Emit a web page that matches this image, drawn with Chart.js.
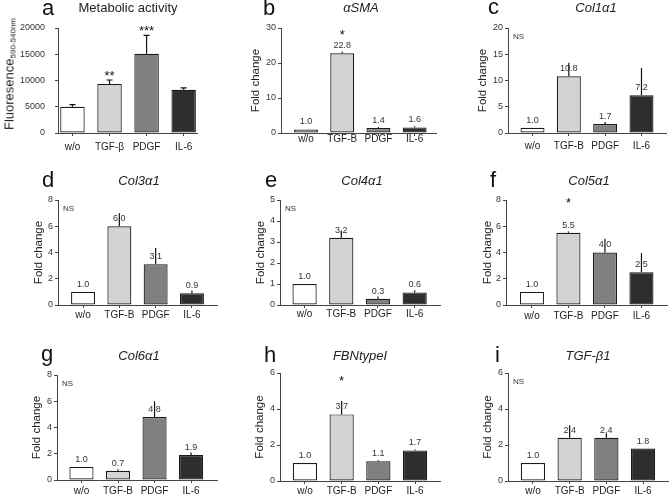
<!DOCTYPE html>
<html>
<head>
<meta charset="utf-8">
<script src="https://cdn.jsdelivr.net/npm/chart.js@4.4.1/dist/chart.umd.min.js"></script>
<style>
    body { margin: 0; background: #fff; width: 669px; height: 495px; overflow: hidden; font-family: "Liberation Sans", Arial, sans-serif; }
    .panel { position: absolute; width: 223px; height: 165px; }
    .panel canvas { position: absolute; left: 0; top: 0; }
    .letter { position: absolute; font-size: 22px; line-height: 1; color: #111; }
    .ptitle { position: absolute; font-size: 13px; line-height: 1; color: #222; white-space: nowrap; transform: translateX(-50%); }
    .ytitle { position: absolute; font-size: 13px; line-height: 1; color: #222; white-space: nowrap; transform: translate(-50%, -50%) rotate(-90deg); }
    .ytitle sub { font-size: 8px; vertical-align: -2px; }
</style>
</head>
<body>
<script>
// groups on the x axis
const groups = ['w/o', 'TGF-B', 'PDGF', 'IL-6'];
const groupsA = ['w/o', 'TGF-β', 'PDGF', 'IL-6'];

// a - metabolic activity (fluorescence)
const metabolicMean = [5000, 9350, 15100, 8250];
const metabolicErr = [5400, 10100, 18600, 8600];
const metabolicStars = ['', '**', '***', ''];

// b..i - fold change, bar value and top of error line
const asmaMean = [1.0, 22.8, 1.4, 1.6];
const asmaErr = [1.0, 23.2, 1.7, 1.9];
const asmaStars = ['', '*', '', ''];

const col1Mean = [1.0, 10.8, 1.7, 7.2];
const col1Err = [1.0, 13.4, 2.1, 12.4];

const col3Mean = [1.0, 6.0, 3.1, 0.9];
const col3Err = [1.0, 7.0, 4.35, 1.1];

const col4Mean = [1.0, 3.2, 0.3, 0.6];
const col4Err = [1.0, 3.55, 0.4, 0.7];

const col5Mean = [1.0, 5.5, 4.0, 2.5];
const col5Err = [1.0, 5.6, 5.05, 3.95];
const col5Stars = ['', '*', '', ''];

const col6Mean = [1.0, 0.7, 4.8, 1.9];
const col6Err = [1.0, 0.82, 6.0, 2.1];

const fbnMean = [1.0, 3.7, 1.1, 1.7];
const fbnErr = [1.0, 4.45, 1.15, 1.75];
const fbnStars = ['', '*', '', ''];

const tgfb1Mean = [1.0, 2.4, 2.4, 1.8];
const tgfb1Err = [1.0, 3.1, 2.65, 1.8];

const noStars = ['', '', '', ''];

const barFill = ['#ffffff', '#d3d3d3', '#808080', '#2e2e2e'];

const panels = [
    { letter: 'a', title: 'Metabolic activity', italic: false, labels: groupsA, mean: metabolicMean, err: metabolicErr, stars: metabolicStars,
      yMax: 20000, yStep: 5000, values: false, ns: false, cap: 6,
      left: 0, top: 0, axisX: 58, right: 197, plotTop: 28, plotBottom: 133, xMin: -0.39, xMax: 3.36, labelPad: 5, yTickPad: 10,
      yTitleX: null, letterX: 42, letterBase: 16, titleX: 128, titleY: 7, starGap: 7 },
    { letter: 'b', title: 'αSMA', italic: true, labels: groups, mean: asmaMean, err: asmaErr, stars: asmaStars,
      yMax: 30, yStep: 10, values: true, ns: false, cap: 0,
      left: 223, top: 0, axisX: 58, right: 213, plotTop: 28, plotBottom: 133, xMin: -0.69, xMax: 3.59, labelPad: -3, yTickPad: 2,
      yTitleX: 33, letterX: 40, letterBase: 16, titleX: 138, titleY: 7, starGap: 20 },
    { letter: 'c', title: 'Col1α1', italic: true, labels: groups, mean: col1Mean, err: col1Err, stars: noStars,
      yMax: 20, yStep: 5, values: true, ns: true, cap: 0,
      left: 446, top: 0, axisX: 62, right: 220, plotTop: 28, plotBottom: 133, xMin: -0.675, xMax: 3.675, labelPad: 4, yTickPad: 2,
      yTitleX: 37, letterX: 42, letterBase: 15, titleX: 150, titleY: 7, starGap: 0 },
    { letter: 'd', title: 'Col3α1', italic: true, labels: groups, mean: col3Mean, err: col3Err, stars: noStars,
      yMax: 8, yStep: 2, values: true, ns: true, cap: 0,
      left: 0, top: 165, axisX: 58, right: 217, plotTop: 35, plotBottom: 140, xMin: -0.69, xMax: 3.69, labelPad: 1, yTickPad: 2,
      yTitleX: 39, letterX: 42, letterBase: 23, titleX: 139, titleY: 15, starGap: 0 },
    { letter: 'e', title: 'Col4α1', italic: true, labels: groups, mean: col4Mean, err: col4Err, stars: noStars,
      yMax: 5, yStep: 1, values: true, ns: true, cap: 0,
      left: 223, top: 165, axisX: 57, right: 217, plotTop: 35, plotBottom: 140, xMin: -0.67, xMax: 3.69, labelPad: 0, yTickPad: 2,
      yTitleX: 38, letterX: 42, letterBase: 23, titleX: 139, titleY: 15, starGap: 0 },
    { letter: 'f', title: 'Col5α1', italic: true, labels: groups, mean: col5Mean, err: col5Err, stars: col5Stars,
      yMax: 8, yStep: 2, values: true, ns: false, cap: 0,
      left: 446, top: 165, axisX: 60, right: 221, plotTop: 35, plotBottom: 140, xMin: -0.71, xMax: 3.70, labelPad: 2, yTickPad: 2,
      yTitleX: 42, letterX: 44, letterBase: 23, titleX: 143, titleY: 15, starGap: 32 },
    { letter: 'g', title: 'Col6α1', italic: true, labels: groups, mean: col6Mean, err: col6Err, stars: noStars,
      yMax: 8, yStep: 2, values: true, ns: true, cap: 0,
      left: 0, top: 330, axisX: 57, right: 217, plotTop: 45, plotBottom: 150, xMin: -0.67, xMax: 3.71, labelPad: 2, yTickPad: 2,
      yTitleX: 37, letterX: 41, letterBase: 32, titleX: 139, titleY: 25, starGap: 0 },
    { letter: 'h', title: 'FBNtypeI', italic: true, labels: groups, mean: fbnMean, err: fbnErr, stars: fbnStars,
      yMax: 6, yStep: 2, values: true, ns: false, cap: 0,
      left: 223, top: 330, axisX: 57, right: 217, plotTop: 43, plotBottom: 151, xMin: -0.68, xMax: 3.68, labelPad: 1, yTickPad: 2,
      yTitleX: 37, letterX: 41, letterBase: 33, titleX: 137, titleY: 25, starGap: 23 },
    { letter: 'i', title: 'TGF-β1', italic: true, labels: groups, mean: tgfb1Mean, err: tgfb1Err, stars: noStars,
      yMax: 6, yStep: 2, values: true, ns: true, cap: 0,
      left: 446, top: 330, axisX: 62, right: 222, plotTop: 43, plotBottom: 151, xMin: -0.68, xMax: 3.68, labelPad: 1, yTickPad: 2,
      yTitleX: 42, letterX: 49, letterBase: 33, titleX: 142, titleY: 25, starGap: 0 }
];

const FONT = '"Liberation Sans", Arial, sans-serif';

// value labels, error lines, stars and NS drawn on top of the bars
const barExtras = {
    id: 'barExtras',
    afterDatasetsDraw(chart, args, opts) {
        const ctx = chart.ctx;
        const y = chart.scales.y;
        const meta = chart.getDatasetMeta(0);
        ctx.save();
        ctx.fillStyle = '#333';
        ctx.textAlign = 'center';
        ctx.textBaseline = 'middle';
        ctx.font = '9px ' + FONT;
        if (opts.values) {
            meta.data.forEach((bar, i) => {
                ctx.fillText(opts.mean[i].toFixed(1), bar.x, y.getPixelForValue(opts.mean[i]) - 7.5);
            });
        }
        ctx.strokeStyle = '#111';
        ctx.lineWidth = 1.2;
        meta.data.forEach((bar, i) => {
            const top = y.getPixelForValue(opts.err[i]);
            const base = y.getPixelForValue(opts.mean[i]);
            if (base - top < 0.5) return;
            ctx.beginPath();
            ctx.moveTo(bar.x, base);
            ctx.lineTo(bar.x, top);
            if (opts.cap) {
                ctx.moveTo(bar.x - opts.cap / 2, top);
                ctx.lineTo(bar.x + opts.cap / 2, top);
            }
            ctx.stroke();
        });
        ctx.fillStyle = '#111';
        ctx.font = '13px ' + FONT;
        ctx.textBaseline = 'alphabetic';
        meta.data.forEach((bar, i) => {
            if (!opts.stars[i]) return;
            const top = y.getPixelForValue(opts.err[i]);
            ctx.fillText(opts.stars[i], bar.x, top - opts.starGap + 7);
        });
        if (opts.ns) {
            ctx.font = '8px ' + FONT;
            ctx.textAlign = 'left';
            ctx.textBaseline = 'middle';
            ctx.fillStyle = '#333';
            ctx.fillText('NS', chart.chartArea.left + 5, chart.chartArea.top + 8.5);
        }
        ctx.restore();
    }
};

function makePanel(p) {
    const box = document.createElement('div');
    box.className = 'panel';
    box.style.left = p.left + 'px';
    box.style.top = p.top + 'px';
    document.body.appendChild(box);

    const canvas = document.createElement('canvas');
    canvas.width = 223;
    canvas.height = 165;
    box.appendChild(canvas);

    const letter = document.createElement('div');
    letter.className = 'letter';
    letter.textContent = p.letter;
    letter.style.left = p.letterX + 'px';
    letter.style.top = (p.letterBase - 18.6) + 'px';
    box.appendChild(letter);

    const title = document.createElement('div');
    title.className = 'ptitle';
    title.textContent = p.title;
    title.style.left = p.titleX + 'px';
    title.style.top = (p.titleY - 6.5) + 'px';
    if (p.italic) title.style.fontStyle = 'italic';
    box.appendChild(title);

    if (p.yTitleX === null) {
        const yt = document.createElement('div');
        yt.className = 'ytitle';
        yt.innerHTML = 'Fluoresence<sub>590-540nm</sub>';
        yt.style.left = '10px';
        yt.style.top = '74px';
        box.appendChild(yt);
    }

    new Chart(canvas, {
        type: 'bar',
        data: {
            datasets: [{
                data: p.mean.map((v, i) => ({ x: i, y: v })),
                backgroundColor: barFill,
                borderColor: '#1a1a1a',
                borderWidth: 1.2,
                borderSkipped: false,
                barPercentage: 0.66,
                categoryPercentage: 1
            }]
        },
        options: {
            responsive: false,
            animation: false,
            devicePixelRatio: 1,
            layout: { padding: { left: 0, top: p.plotTop, right: 223 - p.right, bottom: 0 } },
            plugins: {
                legend: { display: false },
                tooltip: { enabled: false },
                barExtras: {
                    mean: p.mean, err: p.err, stars: p.stars, values: p.values,
                    ns: p.ns, cap: p.cap, starGap: p.starGap
                }
            },
            scales: {
                x: {
                    type: 'linear',
                    min: p.xMin,
                    max: p.xMax,
                    offset: false,
                    afterBuildTicks: s => { s.ticks = p.labels.map((l, i) => ({ value: i })); },
                    afterFit: s => { s.height = 165 - p.plotBottom; },
                    border: { color: '#444', width: 1 },
                    grid: { offset: false, drawOnChartArea: false, tickLength: 3, color: '#444' },
                    ticks: {
                        autoSkip: false,
                        maxRotation: 0,
                        padding: p.labelPad,
                        color: '#222',
                        font: { family: FONT, size: 10 },
                        callback: v => p.labels[v]
                    }
                },
                y: {
                    min: 0,
                    max: p.yMax,
                    afterFit: s => { s.width = p.axisX; },
                    border: { color: '#444', width: 1 },
                    grid: { drawOnChartArea: false, tickLength: 3, color: '#444' },
                    ticks: {
                        stepSize: p.yStep,
                        padding: p.yTickPad,
                        color: '#333',
                        font: { family: FONT, size: 9 },
                        callback: v => v
                    },
                    title: {
                        display: p.yTitleX !== null,
                        text: 'Fold change',
                        color: '#222',
                        font: { family: FONT, size: 11.5, lineHeight: 1.2 },
                        padding: { top: (p.yTitleX || 0) - 6.9, bottom: 0 }
                    }
                }
            }
        },
        plugins: [barExtras]
    });
}

panels.forEach(makePanel);
</script>
</body>
</html>
